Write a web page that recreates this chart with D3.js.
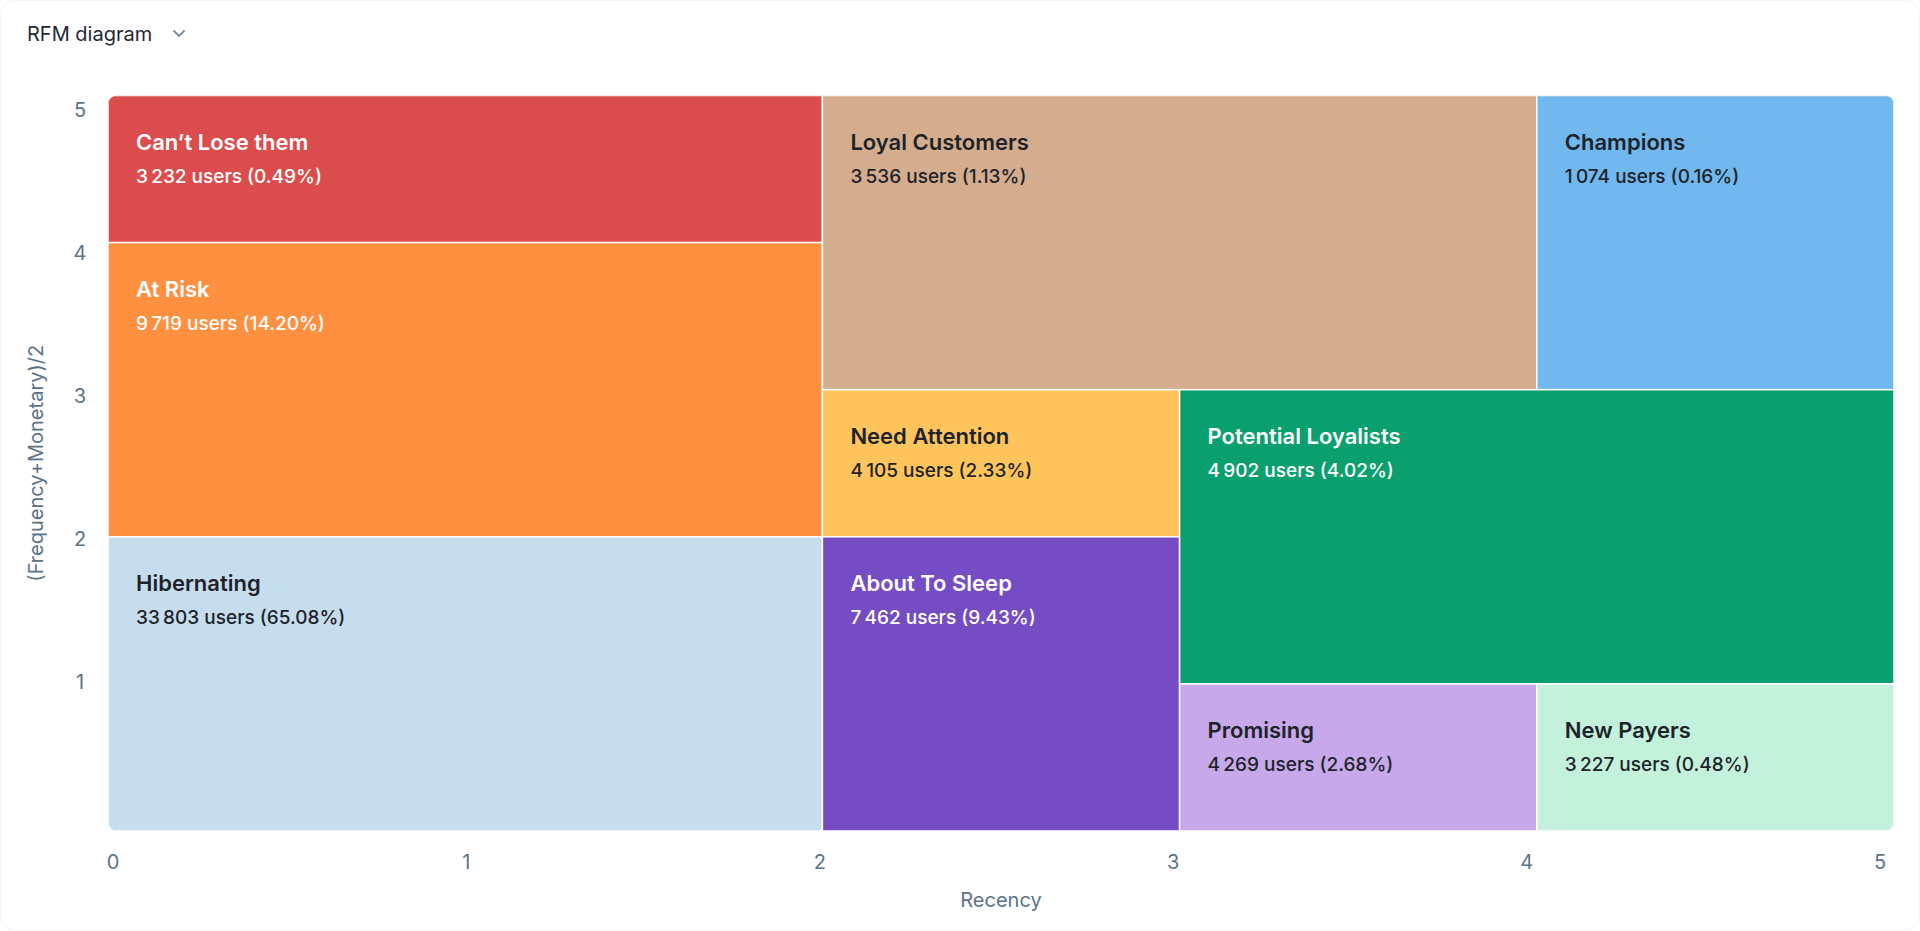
<!DOCTYPE html>
<html>
<head>
<meta charset="utf-8">
<script src="https://cdn.jsdelivr.net/npm/d3@7"></script>
<style>
  html, body { margin: 0; padding: 0; background: #fff; }
  svg { display: block; font-family: Inter, "Noto Sans", sans-serif; }
</style>
</head>
<body>
<script>
const pageWidth = 1920;
const pageHeight = 931;

// segment data
const segments = ["Can’t Lose them", "At Risk", "Hibernating", "Loyal Customers", "Champions",
    "Need Attention", "About To Sleep", "Potential Loyalists", "Promising", "New Payers"];
const recencyFrom = [0, 0, 0, 2, 4, 2, 2, 3, 3, 4];
const recencyTo   = [2, 2, 2, 4, 5, 3, 3, 5, 4, 5];
const fmFrom      = [4, 2, 0, 3, 3, 2, 0, 1, 0, 0];
const fmTo        = [5, 4, 2, 5, 5, 3, 2, 3, 1, 1];
const users  = [3232, 9719, 33803, 3536, 1074, 4105, 7462, 4902, 4269, 3227];
const shares = [0.49, 14.20, 65.08, 1.13, 0.16, 2.33, 9.43, 4.02, 2.68, 0.48];

const xTicks = [0, 1, 2, 3, 4, 5];
const yTicks = [1, 2, 3, 4, 5];

const palette = ["#db4d4d", "#ff9040", "#c6ddee", "#d4ad8e", "#70b8ee",
    "#ffc55c", "#764cc4", "#0a9f6e", "#c7a8ea", "#c3f1db"];
const textColors = ["#fff", "#fff", "#1e2329", "#1e2329", "#1e2329",
    "#1e2329", "#fff", "#fff", "#1e2329", "#1e2329"];

const margin = { left: 108, right: 26, top: 95.5, bottom: 100 };

const x = d3.scaleLinear().domain([0, 5]).range([margin.left, pageWidth - margin.right]);
const y = d3.scaleLinear().domain([0, 5]).range([pageHeight - margin.bottom, margin.top]);
// tick labels sit slightly inside the cell grid
const xLabel = d3.scaleLinear().domain([0, 5]).range([113, 1880]);
const yLabel = d3.scaleLinear().domain([0, 5]).range([825, 110]);

const fmt = d3.formatLocale({ decimal: ".", thousands: "\u202F", grouping: [3], currency: ["", ""] }).format(",d");

const svg = d3.select("body").append("svg")
    .attr("width", pageWidth)
    .attr("height", pageHeight);

svg.append("rect")
    .attr("x", 0.5).attr("y", 0.5)
    .attr("width", pageWidth - 1).attr("height", pageHeight - 1)
    .attr("rx", 14)
    .attr("fill", "#fff")
    .attr("stroke", "#f4f5f7");

// header
svg.append("text")
    .attr("x", 27).attr("y", 41)
    .attr("fill", "#1f2933")
    .style("font-size", "20px")
    .text("RFM diagram");

svg.append("path")
    .attr("d", "M174,31 L179,36 L184,31")
    .attr("fill", "none")
    .attr("stroke", "#7c8b99")
    .attr("stroke-width", 1.8)
    .attr("stroke-linecap", "round");

// clip for rounded outer corners
const defs = svg.append("defs");
defs.append("clipPath").attr("id", "plotClip")
    .append("rect")
    .attr("x", x(0)).attr("y", y(5))
    .attr("width", x(5) - x(0)).attr("height", y(0) - y(5))
    .attr("rx", 9);

const cells = svg.append("g").attr("clip-path", "url(#plotClip)")
    .selectAll("g")
    .data(d3.range(segments.length))
    .enter().append("g");

cells.append("rect")
    .attr("x", i => x(recencyFrom[i]))
    .attr("y", i => y(fmTo[i]))
    .attr("width", i => x(recencyTo[i]) - x(recencyFrom[i]))
    .attr("height", i => y(fmFrom[i]) - y(fmTo[i]))
    .attr("fill", i => palette[i])
    .attr("stroke", "#fff")
    .attr("stroke-width", 1.5);

cells.append("text")
    .attr("x", i => x(recencyFrom[i]) + 28)
    .attr("y", i => y(fmTo[i]) + 54)
    .attr("fill", i => textColors[i])
    .style("font-size", "22px")
    .style("font-weight", 600)
    .text(i => segments[i]);

cells.append("text")
    .attr("x", i => x(recencyFrom[i]) + 28)
    .attr("y", i => y(fmTo[i]) + 87)
    .attr("fill", i => textColors[i])
    .style("font-size", "19px")
    .style("font-weight", 500)
    .text(i => `${fmt(users[i])} users (${shares[i].toFixed(2)}%)`);

// axes labels
svg.append("g").selectAll("text")
    .data(xTicks)
    .enter().append("text")
    .attr("x", d => xLabel(d))
    .attr("y", 869)
    .attr("text-anchor", "middle")
    .attr("fill", "#5a7388")
    .style("font-size", "20px")
    .text(d => d);

svg.append("g").selectAll("text")
    .data(yTicks)
    .enter().append("text")
    .attr("x", 80)
    .attr("y", d => yLabel(d) + 7)
    .attr("text-anchor", "middle")
    .attr("fill", "#5a7388")
    .style("font-size", "20px")
    .text(d => d);

svg.append("text")
    .attr("x", (x(0) + x(5)) / 2)
    .attr("y", 907)
    .attr("text-anchor", "middle")
    .attr("fill", "#5a7388")
    .style("font-size", "20px")
    .text("Recency");

svg.append("text")
    .attr("transform", `translate(43,${(y(0) + y(5)) / 2}) rotate(-90)`)
    .attr("text-anchor", "middle")
    .attr("fill", "#5a7388")
    .style("font-size", "20px")
    .text("(Frequency+Monetary)/2");
</script>
</body>
</html>
